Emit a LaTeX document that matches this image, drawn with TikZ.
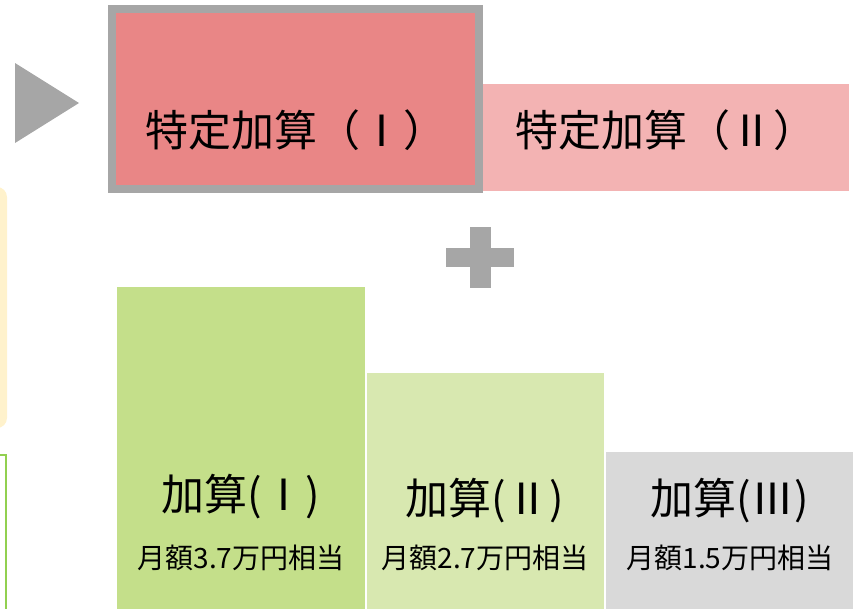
\documentclass[tikz,border=0pt]{standalone}
\usepackage{fontspec}
\newfontfamily\jpfont{Noto Sans CJK JP}
\usetikzlibrary{positioning}

\definecolor{markgray}{HTML}{A6A6A6}
\definecolor{pinkdark}{HTML}{E98686}
\definecolor{pinklight}{HTML}{F3B3B3}
\definecolor{greendark}{HTML}{C4DF8A}
\definecolor{greenlight}{HTML}{D8E8B0}
\definecolor{barthree}{HTML}{D9D9D9}
\definecolor{notebg}{HTML}{FFF2CC}
\definecolor{noteline}{HTML}{92D050}

\begin{document}
\begin{tikzpicture}[
						x=1pt,
						y=-1pt,
						box/.style={rectangle, inner sep=0pt, outer sep=0pt, anchor=north west},
						bigtxt/.style={font=\jpfont\fontsize{43}{50}\selectfont, inner sep=0pt},
						smalltxt/.style={font=\jpfont\fontsize{28}{33}\selectfont, inner sep=0pt}
					]
					\useasboundingbox (0,0) rectangle (861,608);
					\clip (0,0) rectangle (861,608);

					% left side pieces, cut by the edge
					\fill[markgray] (15,63) -- (15,143) -- (79,103) -- cycle;
					\fill[notebg, rounded corners=10pt] (-100,187) rectangle (7,428);
					\draw[noteline, line width=2.5pt] (-100,455) rectangle (6,700);

					% specific additions
					\node[box, fill=pinklight, minimum width=366pt, minimum height=107pt] (tokutei2) at (483,84) {};
					\node[box, fill=pinkdark, draw=markgray, line width=8pt, minimum width=367pt, minimum height=180pt] (tokutei1) at (112,9) {};
					\node[bigtxt] (tokutei1txt) at (296,130) {特定加算（Ⅰ）};
					\node[bigtxt] (tokutei2txt) at (666,130) {特定加算（Ⅱ）};

					% plus
					\fill[markgray] (470,227) rectangle (491,288);
					\fill[markgray] (446,248) rectangle (514,267);

					% additions I - III
					\node[box, fill=greendark, minimum width=248pt, minimum height=330pt] (kasan1) at (117,287) {};
					\node[box, fill=greenlight, minimum width=237pt, minimum height=240pt] (kasan2) at (367,373) {};
					\node[box, fill=barthree, minimum width=247pt, minimum height=160pt] (kasan3) at (606,452) {};

					\node[bigtxt] (kasan1txt) at (241,497) {加算(Ⅰ)};
					\node[bigtxt] (kasan2txt) at (485,501) {加算(Ⅱ)};
					\node[bigtxt] (kasan3txt) at (730,501) {加算(Ⅲ)};
					\node[smalltxt] (kasan1amt) at (241,558) {月額3.7万円相当};
					\node[smalltxt] (kasan2amt) at (485,558) {月額2.7万円相当};
					\node[smalltxt] (kasan3amt) at (730,558) {月額1.5万円相当};
				\end{tikzpicture}
\end{document}
